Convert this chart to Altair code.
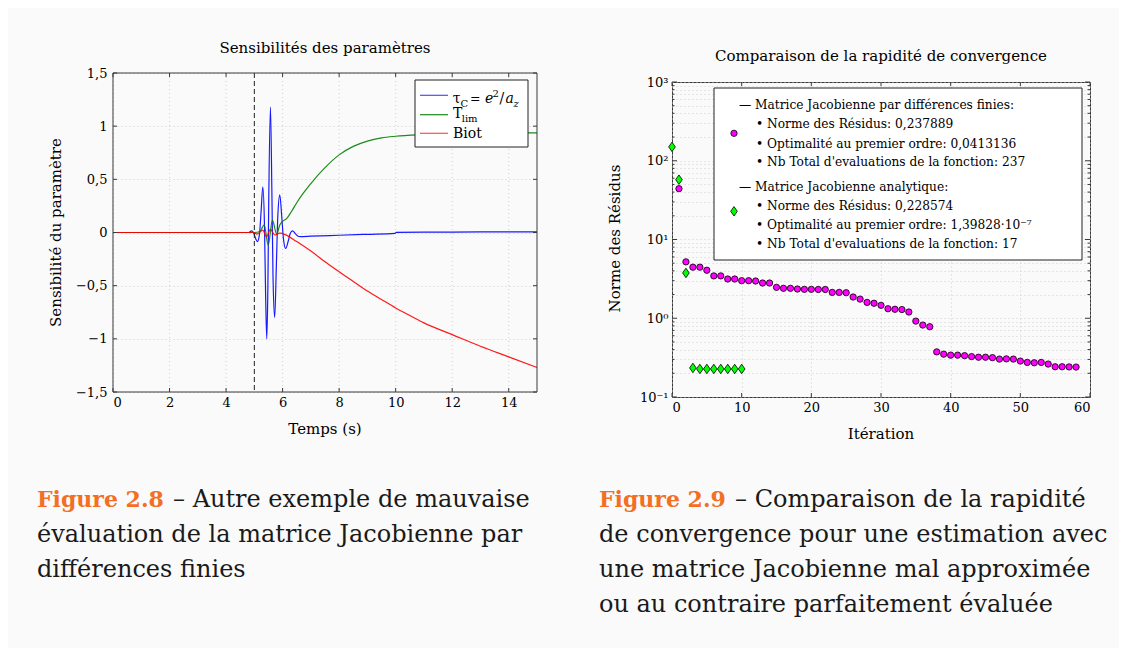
import altair as alt
import pandas as pd

FONT = "DejaVu Serif"
FRAME = "#3a3a3a"
ORANGE = "#f26f23"
TXT = "#1a1a1a"

# ---------------- left chart data: sensitivities ----------------
tau_t = [0, 4.8, 4.9, 4.97, 5.05, 5.11, 5.18, 5.24, 5.30, 5.36, 5.40, 5.44, 5.48, 5.51, 5.57, 5.62,
         5.66, 5.72, 5.78, 5.83, 5.90, 5.97, 6.03, 6.11, 6.2, 6.27, 6.35, 6.45, 6.55, 6.62, 7.0, 8.0,
         9.0, 9.98, 10.02, 11, 12, 13, 14, 15]
tau_v = [0, 0, 0.015, 0.0, -0.06, -0.085, -0.02, 0.2, 0.43, 0.05, -0.6, -1.0, -0.5, 0.3, 1.18, 0.4,
         -0.4, -0.8, -0.3, 0.15, 0.355, 0.15, -0.06, -0.15, -0.08, -0.01, 0.015, -0.01, -0.035, -0.038,
         -0.035, -0.026, -0.017, -0.008, 0.002, 0.003, 0.004, 0.005, 0.005, 0.005]
tlim_t = [0, 5.0, 5.2, 5.35, 5.49, 5.64, 5.79, 5.9, 6.0, 6.14, 6.32, 6.5, 7.0, 7.5, 8.0, 8.5, 9.0,
          9.5, 10, 11, 12, 13, 14, 15]
tlim_v = [0, 0, 0.01, 0.073, -0.12, 0.117, -0.015, 0.07, 0.105, 0.13, 0.2, 0.28, 0.46, 0.61, 0.73,
          0.81, 0.86, 0.89, 0.905, 0.92, 0.93, 0.935, 0.937, 0.937]
biot_t = [0, 4.95, 5.1, 5.3, 5.43, 5.57, 5.73, 5.9, 6.0, 6.5, 7.0, 7.5, 8.0, 8.5, 9.0, 9.5, 10.0,
          10.5, 11.0, 12.0, 13.0, 14.0, 15.0]
biot_v = [0, 0, -0.015, 0.022, -0.04, 0.03, -0.025, -0.005, -0.01, -0.085, -0.175, -0.275, -0.37,
          -0.46, -0.55, -0.63, -0.71, -0.78, -0.85, -0.96, -1.07, -1.17, -1.27]
marker_t = [5.0]
sens_xticks = [0, 2, 4, 6, 8, 10, 12, 14]
sens_yticks = [-1.5, -1, -0.5, 0, 0.5, 1, 1.5]

# ---------------- right chart data: convergence ----------------
iter_fd = list(range(1, 59))
res_fd = [44.2, 5.2, 4.45, 4.45, 4.07, 3.45, 3.45, 3.15, 3.15, 3.0, 3.0, 2.97, 2.8, 2.8, 2.47, 2.4,
          2.4, 2.35, 2.33, 2.33, 2.32, 2.32, 2.13, 2.13, 2.11, 1.86, 1.75, 1.59, 1.55, 1.46, 1.32, 1.3,
          1.29, 1.2, 0.92, 0.82, 0.78, 0.374, 0.35, 0.34, 0.34, 0.335, 0.326, 0.32, 0.32, 0.316, 0.303,
          0.305, 0.303, 0.286, 0.275, 0.272, 0.275, 0.262, 0.242, 0.242, 0.241, 0.24]
iter_an = list(range(0, 11))
res_an = [150, 57.5, 3.76, 0.234, 0.227, 0.227, 0.227, 0.227, 0.227, 0.227, 0.227]
conv_xticks = [0, 10, 20, 30, 40, 50, 60]
conv_ymajor = [0.1, 1, 10, 100, 1000]
conv_yminor = [0.2, 0.3, 0.4, 0.5, 0.6, 0.7, 0.8, 0.9,
               2, 3, 4, 5, 6, 7, 8, 9,
               20, 30, 40, 50, 60, 70, 80, 90,
               200, 300, 400, 500, 600, 700, 800, 900]

one = pd.DataFrame({"k": [0]})
TS = 15  # title / axis-title size


def txt(s, x, y, size=14, align="left", baseline="middle", color="black",
        style="normal", weight="normal", angle=0):
    return alt.Chart(one).mark_text(
        text=s, align=align, baseline=baseline, fontSize=size, font=FONT, color=color,
        fontStyle=style, fontWeight=weight, angle=angle
    ).encode(x=alt.value(x), y=alt.value(y))


def bound_box(x1, x2, y1, y2):
    return alt.Chart(one).mark_rule(opacity=0, strokeWidth=1).encode(
        x=alt.value(x1), x2=alt.value(x2), y=alt.value(y1), y2=alt.value(y2))


def x_ticks(vals, field, scale, ax, top, bottom, L):
    d = pd.DataFrame({field: vals})
    base = alt.Chart(d).mark_rule(color=FRAME, strokeWidth=1)
    xe = alt.X(f"{field}:Q", scale=scale, axis=ax)
    return [base.encode(x=xe, y=alt.value(bottom - L), y2=alt.value(bottom)),
            base.encode(x=xe, y=alt.value(top), y2=alt.value(top + L))]


def y_ticks(vals, field, scale, ax, W, L):
    d = pd.DataFrame({field: vals})
    base = alt.Chart(d).mark_rule(color=FRAME, strokeWidth=1)
    ye = alt.Y(f"{field}:Q", scale=scale, axis=ax)
    return [base.encode(y=ye, x=alt.value(0), x2=alt.value(L)),
            base.encode(y=ye, x=alt.value(W - L), x2=alt.value(W))]


# =============== LEFT PANEL ===============
# the plot frame of this panel starts 9px above the panel origin
W1 = 424
TOP1, BOT1 = -9, 310
xs1 = alt.Scale(domain=[0, 15], nice=False, zero=False)
ys1 = alt.Scale(domain=[-1.5, 1.5], nice=False, zero=False, range=[BOT1, TOP1])
xax1 = alt.Axis(values=sens_xticks, title=None, grid=False, ticks=False, tickSize=0,
                domain=False, labelPadding=4)
yax1 = alt.Axis(values=sens_yticks, title=None, grid=True, ticks=False, tickSize=0,
                domain=False, labelPadding=6,
                labelExpr="replace(format(datum.value, '~g'), '.', ',')")

sens_df = pd.concat([
    pd.DataFrame({"t": tau_t, "v": tau_v, "s": "tau"}),
    pd.DataFrame({"t": tlim_t, "v": tlim_v, "s": "tlim"}),
    pd.DataFrame({"t": biot_t, "v": biot_v, "s": "biot"}),
], ignore_index=True)


def sens_line(name, color):
    return alt.Chart(sens_df).transform_filter(alt.datum.s == name).mark_line(
        color=color, strokeWidth=1.2, opacity=0.9, interpolate="monotone"
    ).encode(x=alt.X("t:Q", scale=xs1, axis=xax1), y=alt.Y("v:Q", scale=ys1, axis=yax1))


BLUE, GREEN, RED = "#0000ff", "#008000", "#ff0000"

left_layers = [
    # vertical dotted grid lines
    alt.Chart(pd.DataFrame({"t": sens_xticks})).mark_rule(
        color="#c4c4c4", strokeWidth=0.8, strokeDash=[1, 3]
    ).encode(x=alt.X("t:Q", scale=xs1, axis=xax1), y=alt.value(TOP1), y2=alt.value(BOT1)),
    sens_line("tau", BLUE),
    sens_line("tlim", GREEN),
    sens_line("biot", RED),
    alt.Chart(pd.DataFrame({"t": marker_t})).mark_rule(
        color="#222222", strokeWidth=1, strokeDash=[5, 3]
    ).encode(x=alt.X("t:Q", scale=xs1, axis=xax1), y=alt.value(TOP1), y2=alt.value(BOT1)),
    # frame
    alt.Chart(one).mark_rect(fillOpacity=0, stroke=FRAME, strokeWidth=1).encode(
        x=alt.value(0), x2=alt.value(W1), y=alt.value(TOP1), y2=alt.value(BOT1)),
]
left_layers += x_ticks(sens_xticks, "t", xs1, xax1, TOP1, BOT1, 4)
left_layers += y_ticks(sens_yticks, "v", ys1, yax1, W1, 4)

# legend box
left_layers += [
    alt.Chart(one).mark_rect(fill="white", stroke="#222222", strokeWidth=1).encode(
        x=alt.value(302), x2=alt.value(415), y=alt.value(-2), y2=alt.value(65)),
    alt.Chart(one).mark_rule(color=BLUE, strokeWidth=1.2, opacity=0.7).encode(
        x=alt.value(307), x2=alt.value(335), y=alt.value(13.3)),
    alt.Chart(one).mark_rule(color=GREEN, strokeWidth=1.2, opacity=0.9).encode(
        x=alt.value(307), x2=alt.value(335), y=alt.value(32.7)),
    alt.Chart(one).mark_rule(color=RED, strokeWidth=1.2, opacity=0.7).encode(
        x=alt.value(307), x2=alt.value(335), y=alt.value(51.3)),
    txt("τ", 339.7, 21, baseline="alphabetic"),
    txt("C", 347.5, 24.5, size=10, baseline="alphabetic"),
    txt("=", 357, 21, size=12.5, baseline="alphabetic"),
    txt("e", 372, 21, style="italic", baseline="alphabetic"),
    txt("2", 379.5, 15, size=10, baseline="alphabetic"),
    txt("/", 386.5, 21, baseline="alphabetic"),
    txt("a", 392.5, 21, style="italic", baseline="alphabetic"),
    txt("z", 400.5, 24.5, size=10, style="italic", baseline="alphabetic"),
    txt("T", 340, 36.3, baseline="alphabetic"),
    txt("lim", 348.7, 39.5, size=10, baseline="alphabetic"),
    txt("Biot", 340, 55.7, baseline="alphabetic"),
]

# titles
left_layers += [
    txt("Sensibilités des paramètres", W1 / 2, -34, size=TS, align="center"),
    txt("Temps (s)", W1 / 2, 347, size=TS, align="center"),
    txt("Sensibilité du paramètre", -57, (TOP1 + BOT1) / 2, size=TS, align="center", angle=270),
]

# caption
left_layers += [
    txt("Figure 2.8", -76, 425, size=22, baseline="alphabetic", color=ORANGE, weight="bold"),
    txt("– Autre exemple de mauvaise", 60, 425, size=24, baseline="alphabetic", color=TXT),
    txt("évaluation de la matrice Jacobienne par", -76, 460, size=24, baseline="alphabetic",
        color=TXT),
    txt("différences finies", -76, 495, size=24, baseline="alphabetic", color=TXT),
    bound_box(-105, 450, -73, 565),
]

left = alt.layer(*left_layers).properties(
    width=W1, height=BOT1, view=alt.ViewBackground(strokeOpacity=0, strokeWidth=0))

# =============== RIGHT PANEL ===============
W2, H2 = 418, 315
xs2 = alt.Scale(domain=[0, 60], nice=False, zero=False)
ys2 = alt.Scale(type="log", domain=[0.1, 1000], nice=False)
xax2 = alt.Axis(values=conv_xticks, title=None, grid=True, ticks=False, tickSize=0,
                domain=False, labelPadding=4)
yax2 = alt.Axis(values=conv_ymajor + conv_yminor, title=None, grid=True, ticks=False, tickSize=0,
                domain=False, labelPadding=4, labelOverlap=False,
                labelExpr=("datum.value == 1000 ? '10³' : datum.value == 100 ? '10²' : "
                           "datum.value == 10 ? '10¹' : datum.value == 1 ? '10⁰' : "
                           "datum.value == 0.1 ? '10⁻¹' : ''"))

DIAMOND = "M0,-1L0.7,0L0,1L-0.7,0Z"
an_df = pd.DataFrame({"i": iter_an, "r": res_an})
fd_df = pd.DataFrame({"i": iter_fd, "r": res_fd})

right_layers = [
    alt.Chart(an_df).mark_point(
        shape=DIAMOND, size=90, filled=True, fill="#00ff00", stroke="black", strokeWidth=0.8,
        fillOpacity=1, strokeOpacity=1
    ).encode(x=alt.X("i:Q", scale=xs2, axis=xax2), y=alt.Y("r:Q", scale=ys2, axis=yax2)),
    alt.Chart(fd_df).mark_point(
        shape="circle", size=40, filled=True, fill="#ff00ff", stroke="black", strokeWidth=0.8,
        fillOpacity=1, strokeOpacity=1
    ).encode(x=alt.X("i:Q", scale=xs2, axis=xax2), y=alt.Y("r:Q", scale=ys2, axis=yax2)),
]
right_layers += x_ticks(conv_xticks, "i", xs2, xax2, 0, H2, 4)
right_layers += y_ticks(conv_ymajor, "r", ys2, yax2, W2, 5)
right_layers += y_ticks(conv_yminor, "r", ys2, yax2, W2, 2.5)

LS = 12.2
right_layers += [
    alt.Chart(one).mark_rect(fill="white", stroke="#222222", strokeWidth=1).encode(
        x=alt.value(42), x2=alt.value(410), y=alt.value(6), y2=alt.value(178)),
    txt("— Matrice Jacobienne par différences finies:", 67, 23.3, size=LS),
    txt("• Norme des Résidus: 0,237889", 84, 42.3, size=LS),
    txt("• Optimalité au premier ordre: 0,0413136", 84, 61.7, size=LS),
    txt("• Nb Total d'evaluations de la fonction: 237", 84, 80.3, size=LS),
    txt("— Matrice Jacobienne analytique:", 67, 105, size=LS),
    txt("• Norme des Résidus: 0,228574", 84, 124, size=LS),
    txt("• Optimalité au premier ordre: 1,39828·10⁻⁷", 84, 143, size=LS),
    txt("• Nb Total d'evaluations de la fonction: 17", 84, 162.3, size=LS),
    alt.Chart(one).mark_point(
        shape="circle", size=40, filled=True, fill="#ff00ff", stroke="black", strokeWidth=0.8,
        fillOpacity=1, strokeOpacity=1).encode(x=alt.value(62), y=alt.value(51.3)),
    alt.Chart(one).mark_point(
        shape=DIAMOND, size=90, filled=True, fill="#00ff00", stroke="black", strokeWidth=0.8,
        fillOpacity=1, strokeOpacity=1).encode(x=alt.value(62), y=alt.value(129.3)),
]

right_layers += [
    txt("Comparaison de la rapidité de convergence", W2 / 2, -26, size=TS, align="center"),
    txt("Itération", W2 / 2, 352, size=TS, align="center"),
    txt("Norme des Résidus", -57, H2 / 2 - 1, size=TS, align="center", angle=270),
]

right_layers += [
    txt("Figure 2.9", -73, 425, size=22, baseline="alphabetic", color=ORANGE, weight="bold"),
    txt("– Comparaison de la rapidité", 63, 425, size=24, baseline="alphabetic", color=TXT),
    txt("de convergence pour une estimation avec", -73, 460, size=24, baseline="alphabetic",
        color=TXT),
    txt("une matrice Jacobienne mal approximée", -73, 495, size=24, baseline="alphabetic",
        color=TXT),
    txt("ou au contraire parfaitement évaluée", -73, 530, size=24, baseline="alphabetic",
        color=TXT),
    bound_box(-108, 446, -73, 565),
]

right = alt.layer(*right_layers).properties(width=W2, height=H2)

chart = alt.hconcat(left, right, spacing=0, padding=0, background="#fafafa").configure_view(
    stroke=FRAME, strokeWidth=1
).configure_axis(
    labelFont=FONT, labelFontSize=13, labelColor="black",
    gridColor="#c4c4c4", gridDash=[1, 3], gridWidth=0.8
)

chart.save("out.html", embed_options={"renderer": "svg", "actions": False})
